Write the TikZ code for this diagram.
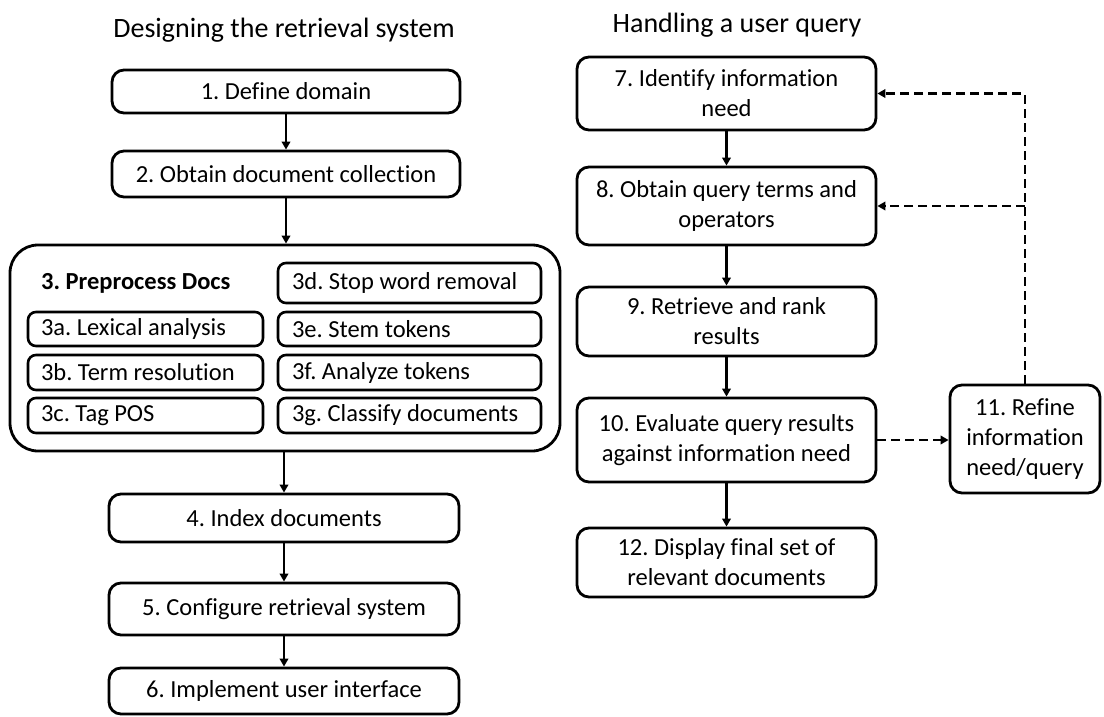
\documentclass[tikz,border=0pt]{standalone}
\usepackage{fontspec}
\setmainfont{Carlito}[Ligatures=NoCommon]
\usetikzlibrary{arrows.meta}
% left-aligned label of fixed width inside a sub-step box
\newcommand{\steplabel}[2]{\makebox[#1][l]{#2}}
\begin{document}
\begin{tikzpicture}[x=1pt,y=-1pt,
  every node/.style={font=\fontsize{24.5}{30}\selectfont\frenchspacing, text=black},
  heading/.style={font=\fontsize{28}{34}\selectfont\frenchspacing},
  box/.style={draw, line width=2.8pt, rounded corners=12pt, inner sep=0pt, align=center},
  group/.style={draw, line width=2.8pt, rounded corners=28pt, inner sep=0pt},
  sub/.style={draw, line width=2.6pt, rounded corners=8pt, inner sep=0pt},
  flow/.style={line width=2.4pt, -{Triangle[length=8pt,width=8.5pt]}},
  back/.style={flow, dash pattern=on 9pt off 5pt},
]
\useasboundingbox (0,0) rectangle (1104,717);

% column headings
\node[heading] (tl) at (284,30) {Designing the retrieval system};
\node[heading] (tr) at (737,25) {Handling a user query};

% left column: building the system
\node[box, minimum width=348pt, minimum height=43pt] (b1) at (286,91.5) {1. Define domain};
\node[box, minimum width=348pt, minimum height=46pt] (b2) at (286,174) {2. Obtain document collection};
\node[group, minimum width=550pt, minimum height=206pt] (b3) at (285,348) {};
\node[anchor=west, inner sep=0pt, font=\fontsize{24.5}{30}\selectfont\frenchspacing\bfseries] (t3) at (41,283) {3. Preprocess Docs};

\node[sub, minimum width=235pt, minimum height=34pt] (s3a) at (145.5,329) {\steplabel{209pt}{3a. Lexical analysis}};
\node[sub, minimum width=235pt, minimum height=35pt] (s3b) at (145.5,372.5) {\steplabel{209pt}{3b. Term resolution}};
\node[sub, minimum width=235pt, minimum height=35pt] (s3c) at (145.5,415.5) {\steplabel{209pt}{3c. Tag POS}};
\node[sub, minimum width=263pt, minimum height=40pt] (s3d) at (409.5,283) {\steplabel{235pt}{3d. Stop word removal}};
\node[sub, minimum width=263pt, minimum height=34pt] (s3e) at (409.5,329) {\steplabel{235pt}{3e. Stem tokens}};
\node[sub, minimum width=263pt, minimum height=35pt] (s3f) at (409.5,372.5) {\steplabel{235pt}{3f. Analyze tokens}};
\node[sub, minimum width=263pt, minimum height=35pt] (s3g) at (409.5,415.5) {\steplabel{235pt}{3g. Classify documents}};

\node[box, minimum width=350pt, minimum height=48pt] (b4) at (284,518) {4. Index documents};
\node[box, minimum width=350pt, minimum height=52pt] (b5) at (284,609) {5. Configure retrieval system};
\node[box, minimum width=350pt, minimum height=46pt] (b6) at (284,691) {6. Implement user interface};

% right column: answering a query
\node[box, minimum width=299pt, minimum height=73pt] (b7) at (726.5,93.5) {7. Identify information\\need};
\node[box, minimum width=299pt, minimum height=78pt] (b8) at (726.5,206) {8. Obtain query terms and\\operators};
\node[box, minimum width=299pt, minimum height=69pt] (b9) at (726.5,321.5) {9. Retrieve and rank\\results};
\node[box, minimum width=299pt, minimum height=84pt] (b10) at (726.5,440) {10. Evaluate query results\\against information need};
\node[box, minimum width=299pt, minimum height=69pt] (b12) at (726.5,562.5) {12. Display final set of\\relevant documents};
\node[box, minimum width=150pt, minimum height=108pt] (b11) at (1025,439) {11. Refine\\information\\need/query};

% solid flow
\draw[flow] (b1) -- (b2);
\draw[flow] (b2.south) -- (b2.south |- b3.north);
\draw[flow] (b3.south -| b4.north) -- (b4.north);
\draw[flow] (b4) -- (b5);
\draw[flow] (b5) -- (b6);
\draw[flow] (b7) -- (b8);
\draw[flow] (b8) -- (b9);
\draw[flow] (b9) -- (b10);
\draw[flow] (b10) -- (b12);

% feedback loop
\draw[back] (b10.east) -- (b10.east -| b11.west);
\draw[back] (b11.north) -- (b11.north |- b7.east) -- (b7.east);
\draw[back] (b11.north |- b8.east) -- (b8.east);
\end{tikzpicture}
\end{document}
